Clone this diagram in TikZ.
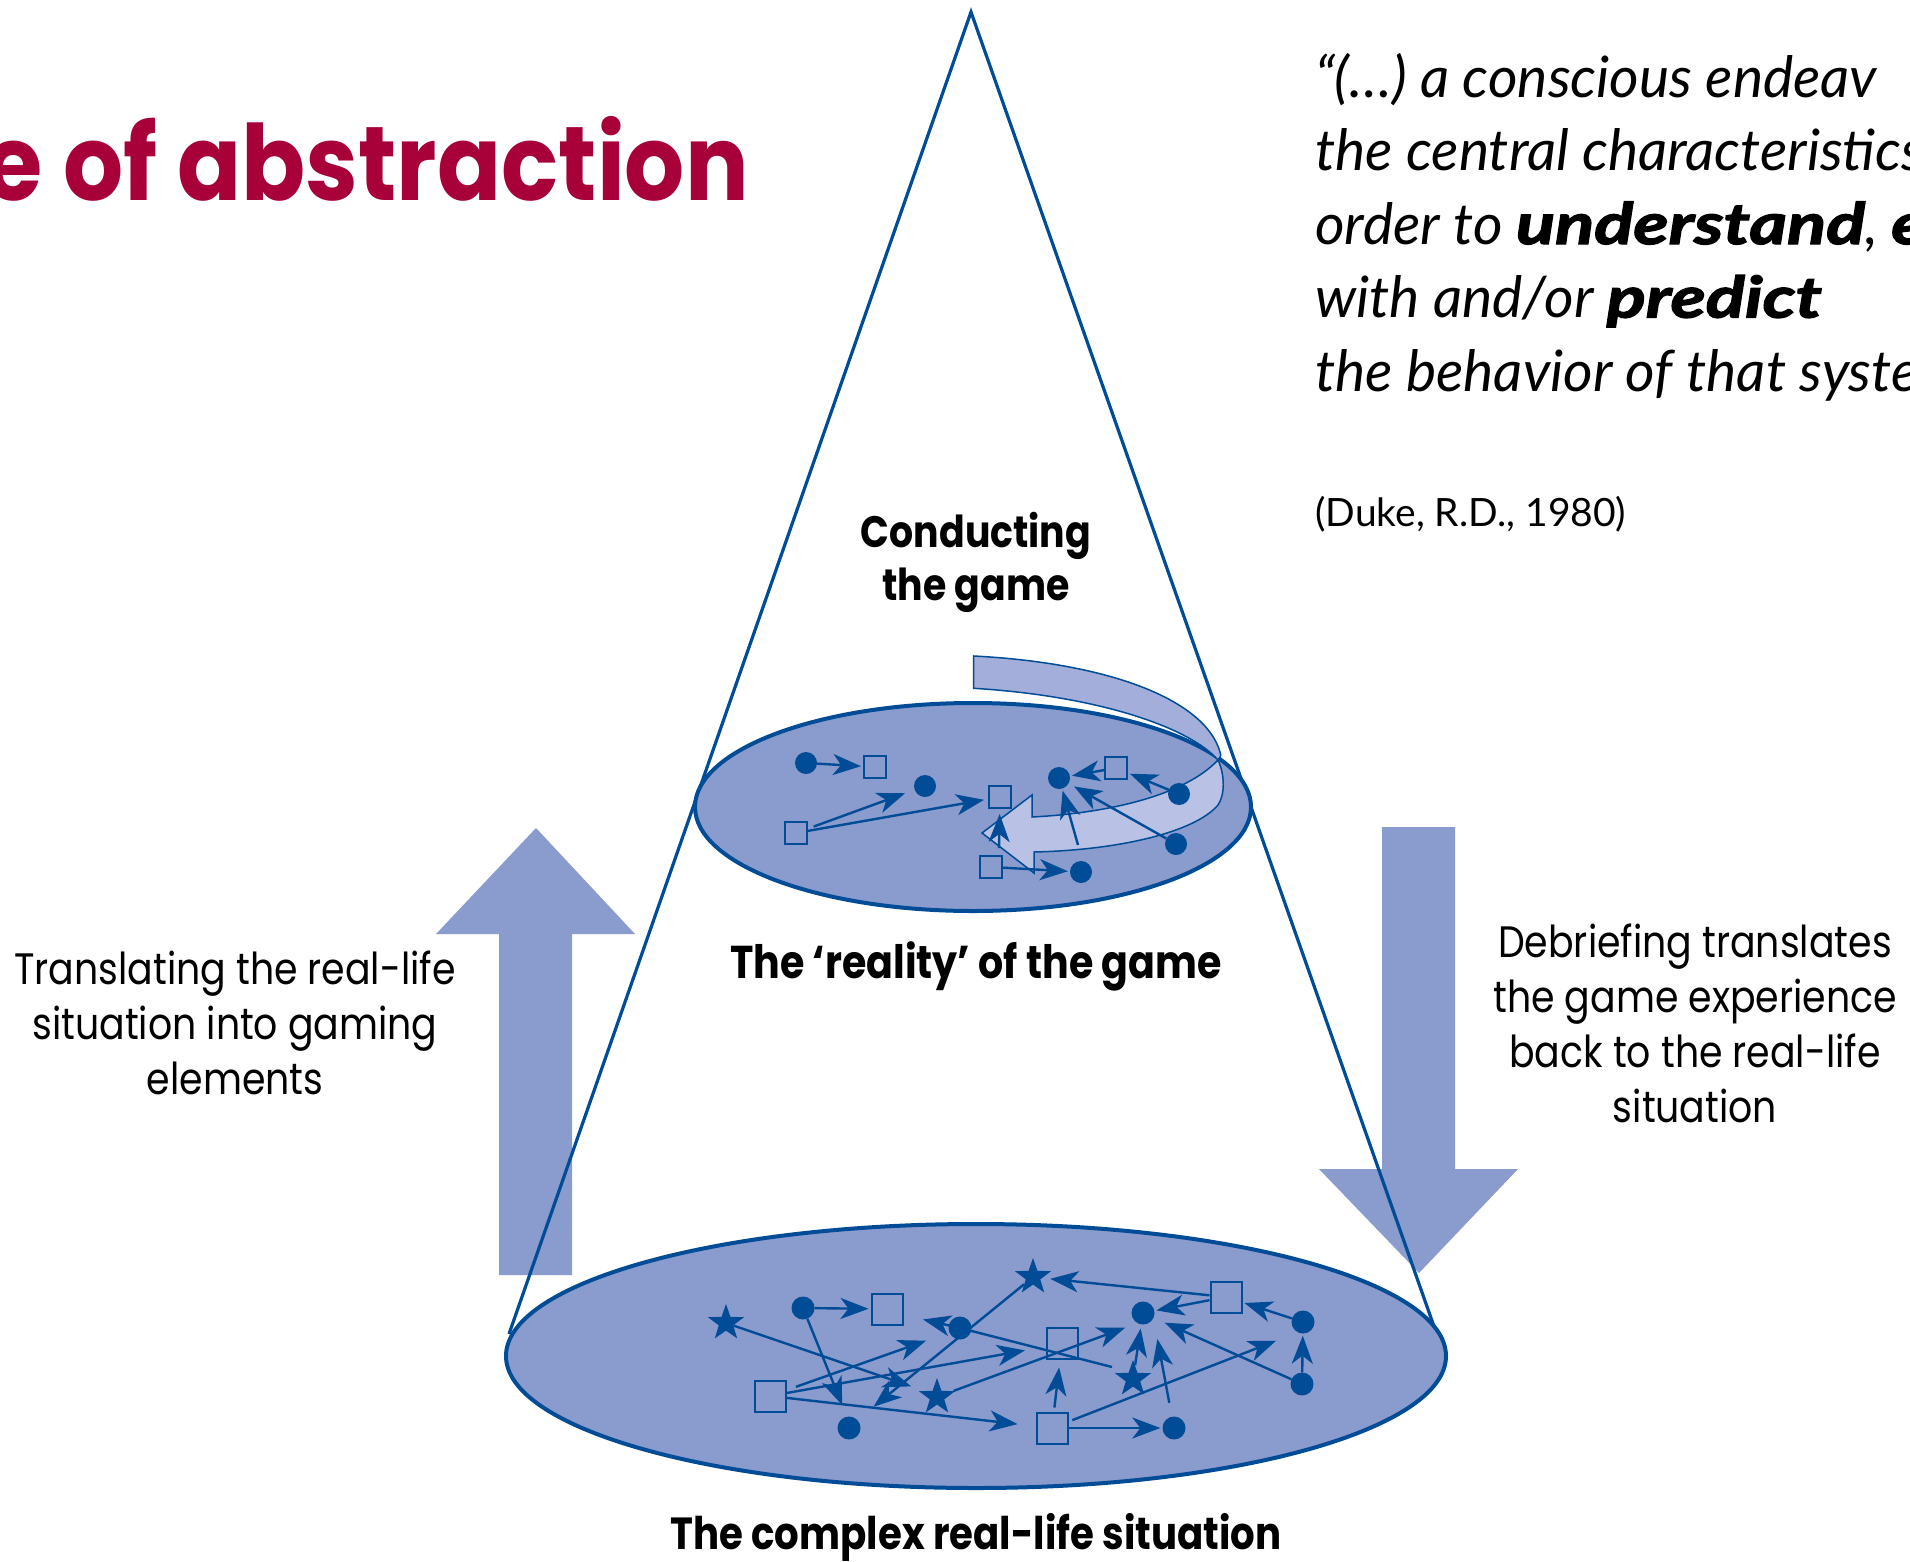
\documentclass[tikz,border=0pt]{standalone}
\usepackage{fontspec}
\setmainfont{Lato}
\newfontfamily\heavyfont[FakeStretch=1.27, FakeBold=2.5]{Lato}
\newfontfamily\titlefont[FakeStretch=0.9]{Poppins}
\newfontfamily\labelfont[FakeStretch=0.86]{Poppins}
\usetikzlibrary{arrows.meta,shapes.geometric}
\definecolor{lineblue}{RGB}{0,76,151}
\definecolor{discblue}{RGB}{138,155,206}
\definecolor{bandback}{RGB}{163,175,218}
\definecolor{bandfront}{RGB}{185,194,228}
\definecolor{titlered}{RGB}{168,0,56}
\newcommand{\lw}{2.4pt}
\newcommand{\heavyword}[1]{{\heavyfont\bfseries\itshape #1}}

\begin{document}
\begin{tikzpicture}[x=1pt,y=-1pt,
    mdot/.style={circle, fill=lineblue, inner sep=0pt, minimum size=#1},
    mdot/.default=22pt,
    mbox/.style={rectangle, draw=lineblue, line width=2pt, inner sep=0pt, minimum size=#1},
    mbox/.default=22pt,
    mstar/.style={star, star points=5, star point ratio=2.5, fill=lineblue, inner sep=0pt, minimum size=38pt},
    flow/.style={draw=lineblue, line width=\lw, shorten >=2pt, -{Stealth[length=28pt,width=21pt,inset=8pt]}},
    disc/.style={ellipse, draw=lineblue, line width=4pt, fill=discblue, inner sep=0pt},
    band/.style={draw=lineblue, line width=1.5pt},
    infotext/.style={font=\labelfont\fontsize{44}{55}\selectfont, align=center, inner sep=0pt, anchor=base}]

    \useasboundingbox (0,0) rectangle (1910,1562);
    \fill[white] (0,0) rectangle (1910,1562);
    \clip (0,0) rectangle (1910,1562);

    % Title and quote (base = last line)
    \node[font=\titlefont\bfseries\fontsize{105}{110}\selectfont, text=titlered, anchor=base east, inner sep=0pt] (title) at (749,201) {e of abstraction};
    \node[font=\fontsize{57}{73.5}\selectfont\itshape, align=left, anchor=base west, inner sep=0pt] (quote) at (1315,391)
        {“(…) a conscious endeav\\the central characteristics\\order to \heavyword{understand}, \heavyword{e}\\with and/or \heavyword{predict}\\the behavior of that syste};
    \node[font=\fontsize{39}{44}\selectfont, anchor=base west, inner sep=0pt] (duke) at (1315,526) {(Duke, R.D., 1980)};

    % Big arrows
    \fill[discblue] (499,1275) -- (499,934) -- (436,934) -- (536,828) -- (635,934) -- (572,934) -- (572,1275) -- cycle;
    \fill[discblue] (1382,827) -- (1455,827) -- (1455,1169) -- (1518,1169) -- (1419,1273) -- (1319,1169) -- (1382,1169) -- cycle;

    % Cone
    \coordinate (apex) at (971,12);
    \coordinate (cone-left) at (509,1334);
    \coordinate (cone-right) at (1443,1352);
    \draw[lineblue, line width=3.2pt] (cone-left) -- (apex) -- (cone-right);

    % Discs
    \node[disc, minimum width=556pt, minimum height=208pt] (game) at (973,807) {};
    \node[disc, minimum width=940pt, minimum height=264pt] (reallife) at (976,1356) {};

    % Labels
    \node[infotext, font=\labelfont\bfseries\fontsize{44}{53}\selectfont] (conduct) at (976,600) {Conducting\\the game};
    \node[infotext, font=\labelfont\bfseries\fontsize{46}{55}\selectfont] (reality) at (976,978) {The ‘reality’ of the game};
    \node[infotext, font=\labelfont\bfseries\fontsize{45}{55}\selectfont] (complex) at (976,1549) {The complex real-life situation};
    \node[infotext] (translate) at (235,1094) {Translating the real-life\\situation into gaming\\elements};
    \node[infotext] (debrief) at (1695,1122) {Debriefing translates\\the game experience\\back to the real-life\\situation};

    % Turning ribbon
    \filldraw[band, fill=bandback] (973.6,656) .. controls (1110,663) and (1205,700) .. (1220,752)
        .. controls (1221,756) .. (1218,760) .. controls (1190,728) and (1100,696) .. (973.6,688.3) -- cycle;
    \filldraw[band, fill=bandfront] (1218,760) .. controls (1225,775) and (1225,795) .. (1218,805)
        .. controls (1195,832) and (1120,850) .. (1034,852) -- (1034,873) -- (982,833) -- (1032,795) -- (1032,817)
        .. controls (1110,813) and (1185,795) .. (1218,760) -- cycle;

    % Game elements
    \node[mdot] (dot-s-1) at (806,763) {};
    \node[mdot] (dot-s-2) at (925,786) {};
    \node[mdot] (dot-s-3) at (1059,778) {};
    \node[mdot] (dot-s-4) at (1179,794) {};
    \node[mdot] (dot-s-5) at (1176,844) {};
    \node[mdot] (dot-s-6) at (1081,872) {};
    \node[mbox] (sq-s-1) at (875,767) {};
    \node[mbox] (sq-s-2) at (796,833) {};
    \node[mbox] (sq-s-3) at (1000,797) {};
    \node[mbox] (sq-s-4) at (1116,768) {};
    \node[mbox] (sq-s-5) at (991,867) {};
    \coordinate (cs-7) at (1078,845);
    \coordinate (cs-9) at (999,848);

    \draw[flow] (dot-s-1) -- (sq-s-1);
    \draw[flow, shorten <=6pt, shorten >=10pt] (sq-s-2) -- (dot-s-2);
    \draw[flow, shorten >=4pt] (sq-s-2) -- (sq-s-3);
    \draw[flow] (sq-s-4) -- (dot-s-3);
    \draw[flow] (dot-s-4) -- (sq-s-4);
    \draw[flow, shorten >=6pt] (dot-s-5) -- (dot-s-3);
    \draw[flow] (cs-7) -- (dot-s-3);
    \draw[flow, shorten >=5pt] (cs-9) -- (sq-s-3);
    \draw[flow] (sq-s-5) -- (dot-s-6);

    % Real-life elements
    \node[mstar] (star-b-1) at (726,1323) {};
    \node[mstar] (star-b-2) at (1033,1277) {};
    \node[mstar] (star-b-3) at (937,1397) {};
    \node[mstar] (star-b-4) at (1133,1379) {};
    \node[mdot=23pt] (dot-b-1) at (803,1308) {};
    \node[mdot=23pt] (dot-b-2) at (960,1328) {};
    \node[mdot=23pt] (dot-b-3) at (1143,1313) {};
    \node[mdot=23pt] (dot-b-4) at (1303,1322) {};
    \node[mdot=23pt] (dot-b-5) at (1302,1384) {};
    \node[mdot=23pt] (dot-b-6) at (849,1428) {};
    \node[mdot=23pt] (dot-b-7) at (1174,1428) {};
    \node[mbox=31pt] (sq-b-1) at (887,1309) {};
    \node[mbox=31pt] (sq-b-2) at (770,1396) {};
    \node[mbox=31pt] (sq-b-3) at (1062,1343) {};
    \node[mbox=31pt] (sq-b-4) at (1052,1428) {};
    \node[mbox=31pt] (sq-b-5) at (1226,1297) {};
    \coordinate (cb-2) at (843,1407);
    \coordinate (cb-3) at (913,1387);
    \coordinate (cb-4) at (928,1340);
    \coordinate (cb-5) at (1027,1350);
    \coordinate (cb-7) at (872,1408);
    \coordinate (cb-8a) at (1112,1367);
    \coordinate (cb-8b) at (921,1319);
    \coordinate (cb-9) at (1127,1327);
    \coordinate (cb-12) at (1278,1340);
    \coordinate (cb-14) at (1157,1337);

    \draw[flow] (dot-b-1) -- (sq-b-1);
    \draw[flow] (dot-b-1) -- (cb-2);
    \draw[flow] (star-b-1) -- (cb-3);
    \draw[flow, shorten <=10pt] (sq-b-2) -- (cb-4);
    \draw[flow] (sq-b-2) -- (cb-5);
    \draw[flow, shorten >=18pt] (sq-b-2) -- (sq-b-4);
    \draw[flow] (star-b-2) -- (cb-7);
    \draw[flow] (cb-8a) -- (dot-b-2.center) -- (cb-8b);
    \draw[flow] (star-b-3) -- (cb-9);
    \draw[flow, shorten <=4pt, shorten >=8pt] (sq-b-4) -- (sq-b-3);
    \draw[flow] (sq-b-4) -- (dot-b-7);
    \draw[flow, shorten <=4pt] (sq-b-4) -- (cb-12);
    \draw[flow, shorten >=4pt] (star-b-4) -- (dot-b-3);
    \draw[flow, shorten <=14pt] (dot-b-7) -- (cb-14);
    \draw[flow, shorten >=12pt] (dot-b-5) -- (dot-b-3);
    \draw[flow] (dot-b-5) -- (dot-b-4);
    \draw[flow] (dot-b-4) -- (sq-b-5);
    \draw[flow] (sq-b-5) -- (dot-b-3);
    \draw[flow, shorten >=8pt] (sq-b-5) -- (star-b-2);
\end{tikzpicture}
\end{document}
